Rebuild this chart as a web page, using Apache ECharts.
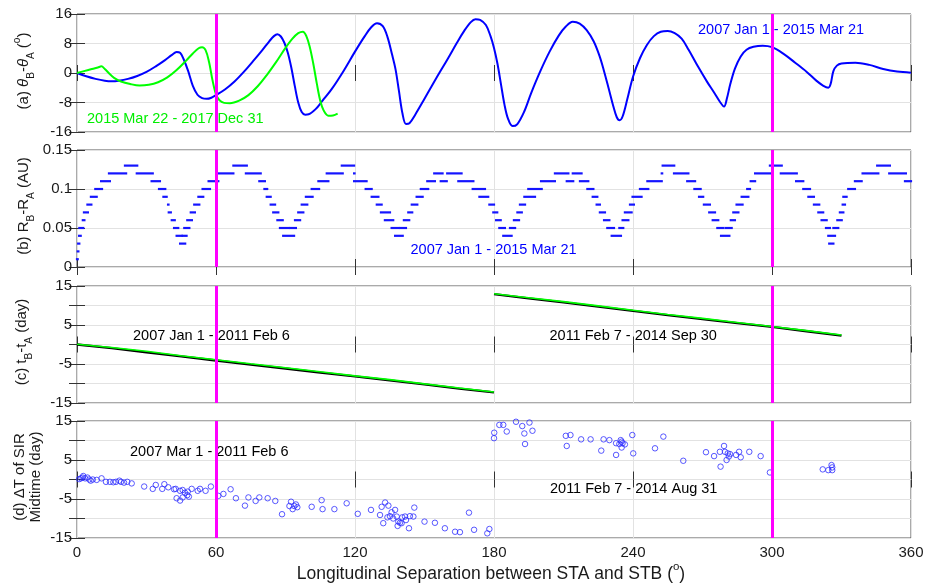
<!DOCTYPE html>
<html><head><meta charset="utf-8">
<script src="https://cdn.jsdelivr.net/npm/echarts@6/dist/echarts.min.js"></script>
<style>html,body{margin:0;padding:0;background:#fff}#c{width:931px;height:586px}</style>
</head><body><div id="c"></div><script>
const FONT = '"Liberation Sans", Arial, sans-serif';

// ---------- data ----------
const separations = [60, 300];           // magenta reference lines (deg)

// (a) theta_B - theta_A (deg) vs separation
const thetaBlue = [[0,0],[4,-0.9],[8,-1.6],[12,-2.1],[15,-2.25],[18,-2.1],[22,-1.6],[26,-0.8],[30,0.3],[34,1.8],[38,3.5],[41,4.9],[43,5.7],[44.5,5.5],[46,3.8],[48,0.5],[50,-3.5],[52,-5.9],[54,-6.8],[56,-7.0],[58,-6.7],[60,-6.0],[64,-4.4],[68,-2.3],[72,0.3],[76,3.2],[80,6.2],[83,8.6],[85,10.0],[86.5,10.5],[88,9.9],[89.5,8.2],[91,5.5],[92.5,1.5],[94,-3.5],[95.5,-8],[97,-10.6],[98.5,-11.3],[100,-11.2],[103,-9.8],[106,-7.5],[110,-4.3],[115,0.5],[120,5.8],[124,9.8],[127,12.4],[129.5,13.5],[132,12.7],[134,9.8],[136,5],[137.5,1.0],[139,-5],[140.5,-11],[142,-13.8],[143.5,-13.6],[146,-11.3],[150,-7],[155,-1.5],[160,3.8],[164,8.2],[167,11.3],[170,13.8],[172,14.6],[174,14.4],[176.5,13],[178.5,10],[180,6.8],[181.5,2.5],[183,-3],[184.5,-8.5],[186,-12.3],[188,-14.4],[190,-13.9],[193,-10.5],[196,-5.5],[200,0.5],[204,5.8],[208,10.2],[211,12.6],[214,13.9],[217,13.4],[220,11.6],[223,8.6],[225.5,4.7],[227.5,0.5],[229.5,-4.2],[231.5,-9],[233,-12],[234.2,-12.8],[235.5,-11.8],[237.5,-7.2],[240,-1.0],[243,4.0],[246,7.6],[249,10.0],[252,11.2],[255,11.4],[258,10.8],[261,9.3],[264,6.3],[268,1.8],[272,-2.4],[275,-5.3],[277.5,-7.8],[279.3,-9.1],[280.5,-7],[282,-3.0],[284,1.2],[286.5,4.5],[289,6.3],[292,7.1],[296,7.4],[300,7.0],[305,5.2],[310,2.8],[315,0.3],[319,-2.0],[322,-3.4],[324.3,-4.0],[325.3,-3.0],[326.5,0.5],[328,2.0],[330,2.6],[336,2.8],[342,2.2],[348,1.1],[354,0.4],[360,0.1]];
const thetaGreen = [[0,0],[3,0.5],[6,1.0],[9,1.5],[10.5,1.8],[12,1.1],[14,-0.2],[16,-1.3],[19,-2.3],[23,-3.0],[27,-3.4],[31,-3.2],[35,-2.5],[39,-1.2],[43,0.8],[47,3.3],[50,5.3],[52.5,6.7],[54,7.0],[55.5,6.2],[57,3.0],[58.5,-2.0],[60,-5.8],[61.5,-7.4],[63.5,-8.1],[66,-8.2],[70,-7.5],[74,-6.0],[78,-3.6],[82,-0.5],[86,3.0],[90,6.8],[93,9.3],[95.5,10.8],[97.5,11.2],[99,10.0],[100.5,7.0],[102,2.5],[103.5,-2.8],[105,-7.5],[106.5,-10.2],[108.5,-11.6],[110.5,-11.5],[112.5,-11.0]];

// (b) R_B - R_A (AU): runs of equal daily values [from deg, to deg, value]
const radialRuns = [[0,0.3,0.01],[0.3,0.6,0.02],[0.5,1,0.03],[0.9,1.6,0.04],[1,2.7,0.05],[2.5,3.2,0.06],[3,4.7,0.07],[4.5,6.2,0.08],[6,8.5,0.09],[7.9,10.8,0.10],[10.4,14.2,0.11],[13.8,21.2,0.12],[20.7,26,0.13],[25.8,32.7,0.12],[32.2,35.8,0.11],[35.4,38.1,0.10],[37.3,38.7,0.09],[39.3,39.5,0.08],[39.6,40.5,0.07],[40.9,42.2,0.06],[41.9,43.7,0.05],[43,45.2,0.04],[44.5,46.7,0.03],[45.6,47.3,0.04],[46.3,48.5,0.05],[47.6,49.6,0.06],[49.1,50.9,0.07],[50.6,52.8,0.08],[52.4,54.5,0.09],[54.2,57.4,0.10],[56.8,61,0.11],[60.6,67.5,0.12],[67.5,73.3,0.13],[72.9,79.3,0.12],[78.7,81.1,0.11],[80.9,82.1,0.10],[81.9,83.6,0.09],[83.6,85.5,0.08],[84.7,86.9,0.07],[86.5,88.8,0.06],[87.6,91.6,0.05],[89,93.7,0.04],[92.2,94.5,0.05],[94.1,96.3,0.06],[95.5,97.7,0.07],[97,99.4,0.08],[98.8,101.7,0.09],[101.3,104.5,0.10],[104.2,108.5,0.11],[107.8,114.7,0.12],[114.3,119.6,0.13],[119.6,119.8,0.12],[119.6,125,0.11],[124.6,127.2,0.10],[127.2,130.1,0.09],[129.4,131.5,0.08],[131.2,135.1,0.07],[132.9,136.5,0.06],[135.8,138.7,0.05],[137.3,140.6,0.04],[139.4,142,0.05],[141.1,143.4,0.06],[143,144.7,0.07],[144.5,146.9,0.08],[146.6,149.2,0.09],[148.4,151.6,0.10],[151.2,154.5,0.11],[154.2,157.8,0.12],[157,159.6,0.11],[159.8,166,0.12],[164.6,171.1,0.11],[170.8,176.1,0.10],[173.7,177.5,0.09],[178,180,0.08],[179.7,181.4,0.07],[180.9,182.9,0.06],[182.3,184.7,0.05],[184,187.6,0.04],[186.9,189.1,0.05],[188.6,190.8,0.06],[190.1,192,0.07],[191.2,193.4,0.08],[193.1,197.7,0.09],[194.8,200.6,0.10],[200.3,206.3,0.11],[206.3,212.1,0.12],[211.4,214.2,0.11],[214,217.8,0.12],[217.1,220.7,0.11],[220.3,222.9,0.10],[222.6,224.6,0.09],[224.3,225.7,0.08],[225.7,227.9,0.07],[227.5,229.8,0.06],[228.9,231.8,0.05],[230.8,234.8,0.04],[234.1,235.8,0.05],[235.5,238,0.06],[236.5,239.4,0.07],[238.7,240.4,0.08],[239.8,243.7,0.09],[243,246.6,0.10],[246.2,252.4,0.11],[252.4,252.6,0.12],[252.8,257.8,0.13],[257.7,263.9,0.12],[263.4,266.8,0.11],[266.5,269.2,0.10],[268.5,270.3,0.09],[270.6,273.2,0.08],[272.9,275.4,0.07],[274.4,276.8,0.06],[276.4,279,0.05],[280,282.6,0.05],[278,281.6,0.04],[282.2,284,0.06],[283.3,285.5,0.07],[284.7,287.3,0.08],[286.9,289.8,0.09],[289.3,290.5,0.10],[290.8,292.7,0.11],[292.7,299.1,0.12],[299.1,304.2,0.13],[303.8,310.7,0.12],[310.4,313.5,0.11],[313.5,316.4,0.10],[315.7,318.1,0.09],[318.1,320.4,0.08],[320,322.1,0.07],[321.4,323.6,0.06],[323.3,325,0.05],[324.3,327.2,0.04],[324.7,326.5,0.03],[326.5,328.6,0.05],[328.2,330.1,0.06],[329.3,330.8,0.07],[330.5,331.5,0.08],[330.8,332.2,0.09],[332.9,335.8,0.10],[335.8,338.7,0.11],[339.1,345.9,0.12],[345.4,350.9,0.13],[350.6,357.8,0.12],[357.4,360,0.11]];

// (c) t_B - t_A (day)
const lagSep1   = [0,15,30,45,60,75,90,105,120,135,150,165,180];
const lagBlack1 = [0,-0.95,-2.0,-3.05,-4.1,-5.15,-6.15,-7.2,-8.2,-9.2,-10.25,-11.3,-12.3];
const lagGreen1 = [0.05,-0.75,-1.75,-2.9,-3.9,-4.95,-5.95,-7.0,-8.05,-9.0,-10.1,-11.15,-12.2];
const lagSep2   = [180,195,210,225,240,255,270,285,300,315,330];
const lagBlack2 = [12.9,11.85,10.8,9.7,8.6,7.55,6.5,5.5,4.5,3.4,2.3];
const lagGreen2 = [13.0,12.0,11.0,9.9,8.8,7.7,6.7,5.65,4.6,3.55,2.45];

// (d) Delta T of SIR midtime (day)
const sirDelay = [[0.9,0.1],[1.7,0.3],[2.4,0.5],[2.7,0.9],[3.5,0.3],[4.5,0.5],[5.3,0],[5.9,-0.3],[6.8,0],[8.5,-0.1],[10.6,0.3],[12.5,-0.6],[14.2,-0.6],[15.7,-0.7],[16.8,-0.6],[18.3,-0.3],[19,-0.6],[20.3,-0.8],[21.7,-0.6],[23.6,-1],[29,-1.8],[32.7,-2.4],[34,-1.4],[36.8,-2.4],[37.7,-1.2],[39.4,-2],[41.9,-2.5],[42.6,-2.4],[43,-4.8],[44.5,-5.4],[44.5,-2.9],[45.6,-2.7],[45.6,-4.6],[46.6,-3.4],[47.6,-4],[47.8,-3.1],[48.3,-4.4],[49.5,-2.4],[52.1,-2.9],[53.1,-2.4],[55.5,-2.9],[57.8,-1.8],[61,-4.2],[63.2,-3.7],[66.3,-2.5],[68.6,-4.8],[72.5,-6.7],[74,-4.6],[77.1,-5.5],[78.7,-4.6],[82.3,-4.8],[85.6,-5.5],[88.5,-8.9],[91.7,-6.8],[92.4,-5.7],[93.1,-7.6],[93.8,-6.8],[94.5,-6.4],[95.1,-7.1],[101.3,-7],[105.6,-5.3],[106,-7.6],[111.1,-7.6],[116.4,-6.1],[121.2,-8.8],[126.9,-7.8],[130.8,-9.1],[131.5,-7],[132.2,-11.2],[133,-5.9],[134,-9.7],[134.4,-6.7],[135.1,-9.4],[135.8,-8.4],[136.5,-10],[137.3,-7.8],[138,-9.5],[138.4,-11.9],[138.7,-10.8],[139.4,-11.1],[140.1,-11.2],[140.4,-9.7],[141.6,-9.5],[142,-10.4],[143.3,-12.5],[143.7,-9.4],[145.2,-9.5],[145.6,-7.2],[150,-10.8],[154.5,-11.1],[158.8,-12.5],[163.2,-13.4],[165.3,-13.5],[169.2,-8.5],[171.4,-12.9],[177.1,-13.8],[178,-12.7],[180,10.6],[180.1,12],[182.3,14],[184,14],[185.5,12.3],[189.5,14.8],[192.2,13.7],[193.1,11.8],[193.4,9.1],[195.3,14.6],[196.6,12.5],[211,11.2],[213,11.4],[211.4,8.6],[217.6,10.3],[221.7,10.3],[226.3,7.4],[227.3,10.3],[229.8,10.1],[232.7,9.3],[232.7,6.3],[234.1,9.1],[234.7,10.1],[235.1,9.7],[235.1,8.2],[235.5,9.3],[236.5,9],[239.7,11.4],[240.1,6.7],[249.5,8],[253.1,11],[261.7,4.8],[271.5,7],[275,6],[277.5,7.1],[277.8,3.3],[279.3,8.6],[279.7,7.1],[280.4,5],[280.9,6.7],[281.4,5.9],[281.9,6.5],[284.5,6.3],[285.8,7.1],[286.5,5.7],[290.2,7.1],[295.1,6],[299.1,1.8],[321.9,2.6],[324.3,2.4],[325.7,3.7],[326,3.1],[326,2.4]];

// axis ranges
const xRange = {min: 0, max: 360, interval: 60};
const yRanges = [
  {min: -16, max: 16, interval: 8},
  {min: 0, max: 0.15, interval: 0.05},
  {min: -15, max: 15, interval: 5},
  {min: -15, max: 15, interval: 5}
];

// ---------- chart ----------
const chart = echarts.init(document.getElementById('c'), null, {renderer: 'canvas'});
const gridBoxes = [{top: 14, height: 118}, {top: 150, height: 117}, {top: 286, height: 117}, {top: 421, height: 117}];
const TXT = '#1a1a1a';
const TICK = {inside: true, length: 8, lineStyle: {color: '#333', width: 1}};
const GRIDLINE = {show: true, lineStyle: {color: '#e2e2e2', width: 1}};

const grid = gridBoxes.map(g => ({left: 77, width: 834, top: g.top, height: g.height, show: true,
  borderColor: '#555', borderWidth: 1, backgroundColor: 'transparent', containLabel: false, outerBoundsMode: 'none'}));

const xAxis = [];
const yAxis = [];
for (let i = 0; i < 4; i++) {
  xAxis.push(Object.assign({type: 'value', gridIndex: i, position: 'bottom', axisLine: {show: false}, axisTick: TICK,
    splitLine: GRIDLINE,
    axisLabel: {show: i === 3, margin: 7, fontSize: 15, fontFamily: FONT, color: TXT, showMinLabel: true, showMaxLabel: true}}, xRange));
}
for (let i = 0; i < 4; i++) {
  xAxis.push(Object.assign({type: 'value', gridIndex: i, position: 'top', axisLine: {show: false}, axisTick: TICK,
    splitLine: {show: false}, axisLabel: {show: false}}, xRange));
}
const yFmt = [
  v => String(v),
  v => String(Math.round(v * 100) / 100),
  v => (Math.abs(Math.round(v)) % 10 === 5 ? String(Math.round(v)) : ''),
  v => (Math.abs(Math.round(v)) % 10 === 5 ? String(Math.round(v)) : '')
];
for (let i = 0; i < 4; i++) {
  yAxis.push(Object.assign({type: 'value', gridIndex: i, position: 'left', axisLine: {show: false}, axisTick: TICK,
    splitLine: GRIDLINE,
    axisLabel: {margin: 5, fontSize: 15, fontFamily: FONT, color: TXT, formatter: yFmt[i], showMinLabel: true, showMaxLabel: true}}, yRanges[i]));
}
for (let i = 0; i < 4; i++) {
  yAxis.push(Object.assign({type: 'value', gridIndex: i, position: 'right', axisLine: {show: false}, axisTick: TICK,
    splitLine: {show: false}, axisLabel: {show: false}}, yRanges[i]));
}

const zip = (xs, ys) => xs.map((x, k) => [x, ys[k]]);
const lineS = (idx, data, color, width, smooth) => ({type: 'line', xAxisIndex: idx, yAxisIndex: idx, data: data,
  showSymbol: false, symbol: 'none', smooth: smooth || false, lineStyle: {color: color, width: width}, silent: true, z: 3});

const series = [
  lineS(0, thetaBlue, '#0000ff', 2, 0.35),
  lineS(0, thetaGreen, '#00ff00', 2, 0.35),
  {type: 'custom', xAxisIndex: 1, yAxisIndex: 1, data: radialRuns, encode: {x: [0, 1], y: 2}, silent: true, z: 3,
    renderItem: (params, api) => {
      const a = api.coord([api.value(0), api.value(2)]);
      const b = api.coord([api.value(1), api.value(2)]);
      return {type: 'line', shape: {x1: a[0], y1: a[1], x2: b[0], y2: b[1]},
        style: {stroke: '#1414ff', lineWidth: 2.2, lineCap: 'square'}};
    }},
  lineS(2, zip(lagSep1, lagBlack1), '#000000', 2.3),
  lineS(2, zip(lagSep2, lagBlack2), '#000000', 2.3),
  lineS(2, zip(lagSep1, lagGreen1), '#00ff00', 1.6),
  lineS(2, zip(lagSep2, lagGreen2), '#00ff00', 1.6),
  {type: 'scatter', xAxisIndex: 3, yAxisIndex: 3, data: sirDelay, symbol: 'circle', symbolSize: 5.5, silent: true, z: 3,
    itemStyle: {color: 'rgba(0,0,0,0)', borderColor: '#3030ff', borderWidth: 1}}
];
for (let i = 0; i < 4; i++) {
  series.push({type: 'line', xAxisIndex: i, yAxisIndex: i, data: [], silent: true, z: 5,
    markLine: {silent: true, symbol: ['none', 'none'], label: {show: false}, animation: false,
      lineStyle: {color: '#ff00ff', width: 3, type: 'solid'},
      data: separations.map(s => ({xAxis: s}))}});
}

const tok = (fs, lh, va, extra) => Object.assign({fontSize: fs, fontFamily: FONT, lineHeight: lh, verticalAlign: va, fill: TXT}, extra || {});
const yRich = {m: tok(15, 24, 'middle'), it: tok(15, 24, 'middle', {fontStyle: 'italic'}), sub: tok(10, 7, 'bottom'), sup: tok(10, 19, 'top')};
const yLab = (x, y, text) => ({type: 'text', x: x, y: y, rotation: Math.PI / 2, silent: true, z: 100,
  style: {text: text, rich: yRich, fontSize: 15, fontFamily: FONT, fill: TXT, align: 'center', verticalAlign: 'middle'}});
const note = (x, y, text, color) => ({type: 'text', x: x, y: y, silent: true, z: 4,
  style: {text: text, fill: color, fontSize: 14.5, fontFamily: FONT, align: 'left', verticalAlign: 'middle'}});

const graphic = [
  yLab(24, 71, '{m|(a) }{it|θ}{sub|B}{m|-}{it|θ}{sub|A}{m| (}{sup|o}{m|)}'),
  yLab(24, 206, '{m|(b) R}{sub|B}{m|-R}{sub|A}{m| (AU)}'),
  yLab(22, 342, '{m|(c) t}{sub|B}{m|-t}{sub|A}{m| (day)}'),
  {type: 'text', x: 28, y: 477, rotation: Math.PI / 2, silent: true, z: 100,
    style: {text: '(d) ΔT of SIR\nMidtime (day)', fontSize: 15, fontFamily: FONT, fill: TXT, lineHeight: 16, align: 'center', verticalAlign: 'middle'}},
  {type: 'text', x: 491, y: 574, silent: true, z: 100,
    style: {text: '{m|Longitudinal Separation between STA and STB (}{sup|o}{m|)}',
      rich: {m: tok(17.5, 26, 'middle'), sup: tok(11.5, 20, 'top')}, fontSize: 17.5, fontFamily: FONT, fill: TXT, align: 'center', verticalAlign: 'middle'}},
  note(87, 118.5, '2015 Mar 22 - 2017 Dec 31', '#00ee00'),
  note(698, 30, '2007 Jan 1 - 2015 Mar 21', '#0000ff'),
  note(410.5, 249.5, '2007 Jan 1 - 2015 Mar 21', '#0000ff'),
  note(133, 336, '2007 Jan 1 - 2011 Feb 6', '#000000'),
  note(549.5, 336, '2011 Feb 7 - 2014 Sep 30', '#000000'),
  note(130, 452, '2007 Mar 1 - 2011 Feb 6', '#000000'),
  note(550, 488.5, '2011 Feb 7 - 2014 Aug 31', '#000000')
];

chart.setOption({animation: false, backgroundColor: '#ffffff', grid: grid, xAxis: xAxis, yAxis: yAxis, series: series, graphic: graphic});
</script></body></html>
